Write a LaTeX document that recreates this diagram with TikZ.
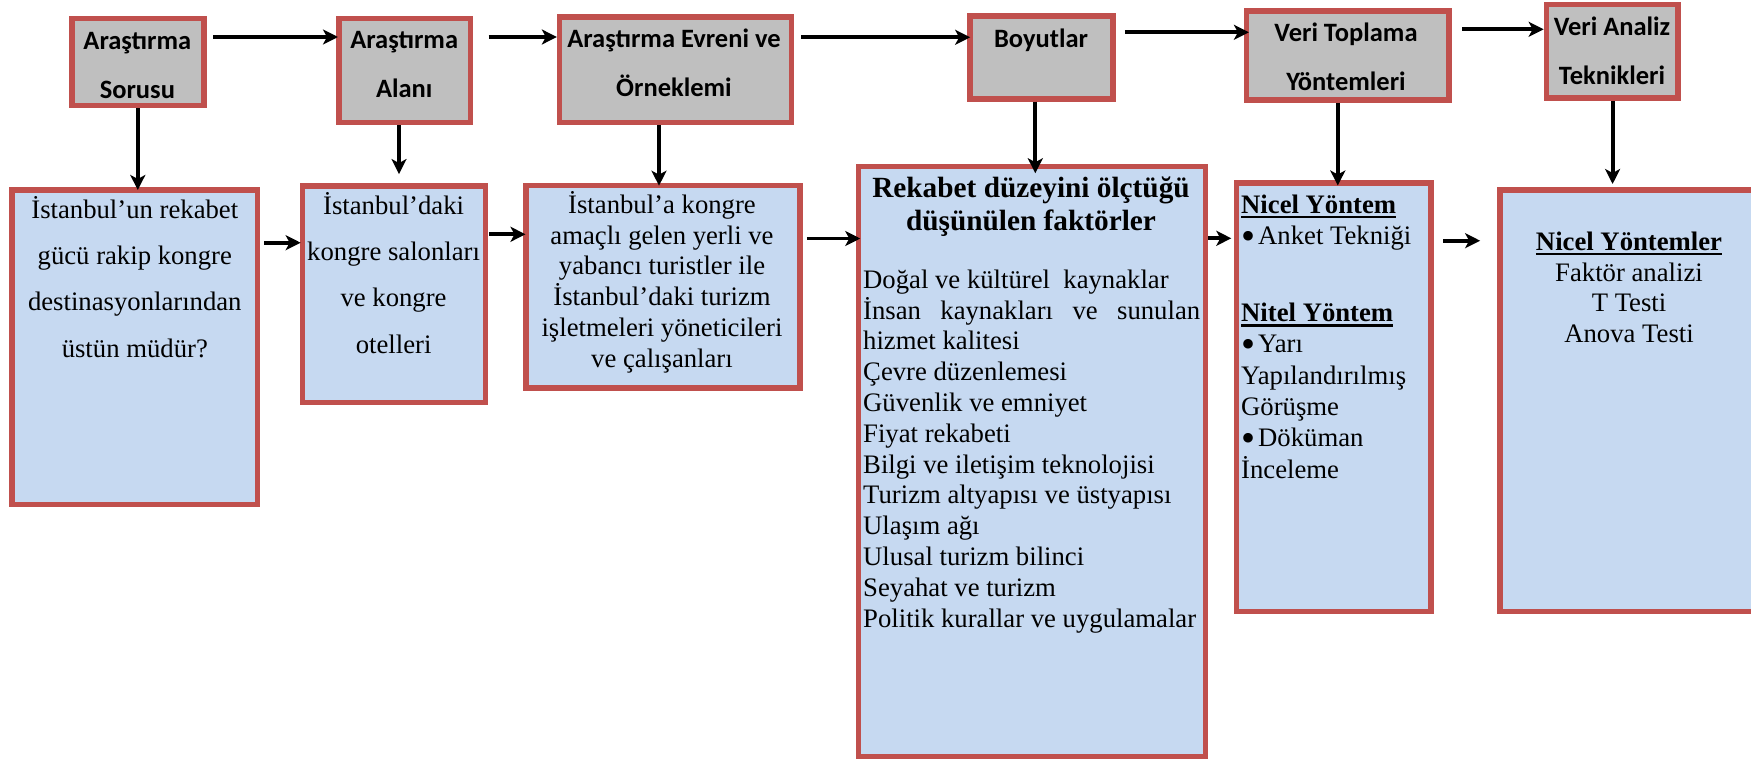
\documentclass[tikz,border=0pt]{standalone}
\usepackage{fontspec}
\setmainfont{Liberation Serif}
\newfontfamily\calibrifont{Carlito}
\usetikzlibrary{arrows.meta}
\definecolor{boxred}{HTML}{C0504D}
\definecolor{boxgray}{HTML}{BFBFBF}
\definecolor{boxblue}{HTML}{C6D9F1}
\newsavebox\myulbox
\newcommand\myul[1]{\sbox\myulbox{#1}\rlap{\rule[-5pt]{\wd\myulbox}{2.6pt}}\usebox\myulbox}
\newcommand\mybul{\makebox[17pt][l]{\raisebox{-4.5pt}{\scalebox{1.5}{\textbullet}}}}
\tikzset{
  topbox/.style={draw=boxred, line width=5.5pt, fill=boxgray, inner sep=0pt},
  botbox/.style={draw=boxred, line width=5.5pt, fill=boxblue, inner sep=0pt},
  toptext/.style={anchor=north, inner sep=0pt, align=center,
    font=\calibrifont\bfseries\fontsize{26.5}{49}\selectfont},
  bodytext/.style={anchor=north, inner sep=0pt, align=center,
    font=\fontsize{26.7}{30.8}\selectfont},
  arr/.style={line width=3.8pt, -{Stealth[length=15pt,width=15pt,inset=4pt]}},
}
\begin{document}
\begin{tikzpicture}[x=1pt,y=-1pt]
\useasboundingbox (0,0) rectangle (1751,760);
% top boxes
\node[topbox, minimum width=132pt, minimum height=86.5pt] (A) at (137.8,62) {};
\node[topbox, minimum width=131.5pt, minimum height=103.5pt] (B) at (404.5,70.5) {};
\node[topbox, minimum width=231.8pt, minimum height=105.2pt] (C) at (675.5,69.7) {};
\node[topbox, minimum width=143pt, minimum height=82.9pt] (D) at (1041.4,57.5) {};
\node[topbox, minimum width=202.3pt, minimum height=88.9pt] (E) at (1347.8,55.5) {};
\node[topbox, minimum width=131.8pt, minimum height=93.8pt] (F) at (1612.3,51.3) {};
% top texts
\node[toptext] (tA) at (137.4,23) {\rule{0pt}{26pt}Araştırma\\Sorusu};
\node[toptext] (tB) at (404.2,22) {\rule{0pt}{26pt}Araştırma\\Alanı};
\node[toptext] (tC) at (674,21) {\rule{0pt}{26pt}Araştırma Evreni ve\\Örneklemi};
\node[toptext] (tD) at (1041,21) {\rule{0pt}{26pt}Boyutlar};
\node[toptext] (tE) at (1346,15) {\rule{0pt}{26pt}Veri Toplama\\Yöntemleri};
\node[toptext] (tF) at (1612,9) {\rule{0pt}{26pt}Veri Analiz\\Teknikleri};
% bottom boxes
\node[botbox, minimum width=245.5pt, minimum height=314.5pt] (b1) at (134.9,347.3) {};
\node[botbox, minimum width=182.8pt, minimum height=216.2pt] (b2) at (393.9,294.2) {};
\node[botbox, minimum width=274.3pt, minimum height=202.5pt] (b3) at (662.9,286.7) {};
\node[botbox, minimum width=347pt, minimum height=590pt] (b4) at (1031.8,461.3) {};
\node[botbox, minimum width=194.5pt, minimum height=428.5pt] (b5) at (1333.8,397) {};
\node[botbox, minimum width=270.25pt, minimum height=421.5pt] (b6) at (1634.9,400.5) {};
% bottom texts
\node[bodytext, font=\fontsize{26.7}{46.3}\selectfont] (t1) at (134.8,192)
  {\rule{0pt}{26pt}İstanbul’un rekabet\\gücü rakip kongre\\destinasyonlarından\\üstün müdür?};
\node[bodytext, font=\fontsize{26.7}{46.3}\selectfont] (t2) at (393.6,188)
  {\rule{0pt}{26pt}İstanbul’daki\\kongre salonları\\ve kongre\\otelleri};
\node[bodytext] (t3) at (662,187)
  {\rule{0pt}{26pt}İstanbul’a kongre\\amaçlı gelen yerli ve\\yabancı turistler ile\\İstanbul’daki turizm\\işletmeleri yöneticileri\\ve çalışanları};
\node[bodytext, font=\bfseries\fontsize{29.3}{33}\selectfont] (t4h) at (1031,169)
  {\rule{0pt}{28pt}Rekabet düzeyini ölçtüğü\\düşünülen faktörler};
\node[bodytext, anchor=north west, align=left] (t4) at (863,262)
  {\rule{0pt}{26pt}Doğal ve kültürel\ \ kaynaklar\\
   \makebox[337pt][s]{İnsan kaynakları ve sunulan}\\
   hizmet kalitesi\\
   Çevre düzenlemesi\\
   Güvenlik ve emniyet\\
   Fiyat rekabeti\\
   Bilgi ve iletişim teknolojisi\\
   Turizm altyapısı ve üstyapısı\\
   Ulaşım ağı\\
   Ulusal turizm bilinci\\
   Seyahat ve turizm\\
   Politik kurallar ve uygulamalar};
\node[bodytext, anchor=north west, align=left, font=\fontsize{26.7}{31.3}\selectfont] (t5) at (1241,187)
  {\rule{0pt}{26pt}\myul{\bfseries Nicel Yöntem}\\
   \mybul Anket Tekniği\\[45.7pt]
   \myul{\bfseries Nitel Yöntem}\\
   \mybul Yarı\\
   Yapılandırılmış\\
   Görüşme\\
   \mybul Döküman\\
   İnceleme};
\node[bodytext] (t6) at (1629,224)
  {\rule{0pt}{26pt}\myul{\bfseries Nicel Yöntemler}\\Faktör analizi\\T Testi\\Anova Testi};
% top arrows
\draw[arr, shorten <=6.6pt, shorten >=-2pt] (A.east |- 0,37) -- (B.west |- 0,37);
\draw[arr, shorten <=15.7pt] (B.east |- 0,37) -- (C.west |- 0,37);
\draw[arr, shorten <=7.3pt, shorten >=-3pt] (C.east |- 0,37.3) -- (D.west |- 0,37.3);
\draw[arr, shorten <=9.2pt, shorten >=-5pt] (D.east |- 0,32.3) -- (E.west |- 0,32.3);
\draw[arr, shorten <=10.7pt] (E.east |- 0,29.3) -- (F.west |- 0,29.3);
% down arrows
\draw[arr, shorten >=-2.7pt] (A.south) -- (A.south |- b1.north);
\draw[arr, shorten >=9.3pt] (B.south -| 399,0) -- (b2.north -| 399,0);
\draw[arr, shorten >=-3pt] (C.south -| 659,0) -- (b3.north -| 659,0);
\draw[arr, shorten >=-9.7pt] (D.south -| 1035.3,0) -- (b4.north -| 1035.3,0);
\draw[arr, shorten >=-5.5pt] (E.south -| 1337.8,0) -- (b5.north -| 1337.8,0);
\draw[arr, shorten >=3pt] (F.south -| 1612.6,0) -- (b6.north -| 1612.6,0);
% bottom arrows
\draw[arr, shorten <=3.9pt, shorten >=-0.9pt] (b1.east |- 0,242.7) -- (b2.west |- 0,242.7);
\draw[arr, shorten <=1.2pt, shorten >=-2.5pt] (b2.east |- 0,234.3) -- (b3.west |- 0,234.3);
\draw[arr, shorten <=4pt, shorten >=-4.7pt] (b3.east |- 0,238.5) -- (b4.west |- 0,238.5);
\draw[arr, shorten >=2.5pt] (b4.east |- 0,238.3) -- (b5.west |- 0,238.3);
\draw[arr, shorten <=9.5pt, shorten >=16.9pt] (b5.east |- 0,240.7) -- (b6.west |- 0,240.7);
\end{tikzpicture}
\end{document}
